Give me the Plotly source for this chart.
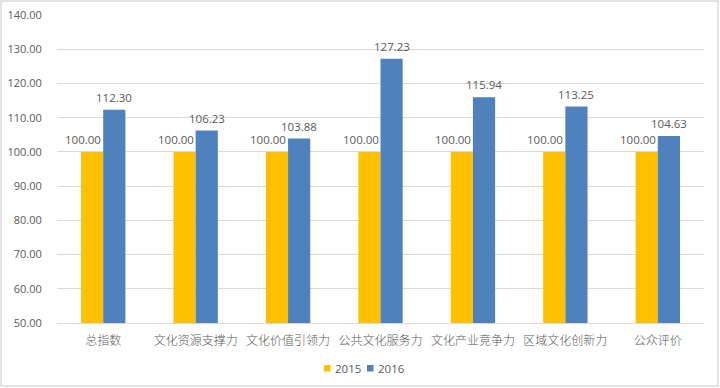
import plotly.graph_objects as go

categories = ["总指数", "文化资源支撑力", "文化价值引领力", "公共文化服务力", "文化产业竞争力", "区域文化创新力", "公众评价"]
values_2015 = [100.00, 100.00, 100.00, 100.00, 100.00, 100.00, 100.00]
values_2016 = [112.30, 106.23, 103.88, 127.23, 115.94, 113.25, 104.63]
y_ticks = [50, 60, 70, 80, 90, 100, 110, 120, 130, 140]
series_names = ["2015", "2016"]

font_fam = "Noto Sans CJK SC, Noto Sans, sans-serif"
num_font = "Open Sans, Noto Sans, sans-serif"
gray = "#595959"
colors = {"2015": "#FFC000", "2016": "#4F81BD"}

W, H = 720, 388
ML, MR, MT, MB = 57, 16, 15, 65
bargap = 0.52
plot_w = W - ML - MR
plot_h = H - MT - MB
cat_px = plot_w / len(categories)
bar_px = cat_px * (1 - bargap) / 2


def px_x(px):
    return (px - ML) / plot_w


def px_y(py):
    return (H - MB - py) / plot_h


fig = go.Figure()
for name, vals in zip(series_names, (values_2015, values_2016)):
    fig.add_trace(go.Bar(
        name=name, x=categories, y=vals, showlegend=False,
        marker=dict(color=colors[name], line=dict(width=0)),
        hovertemplate="%{x}<br>" + name + ": %{y:.2f}<extra></extra>",
    ))

# data labels as annotations so that they sit above both bars
annotations = []
for c, v in zip(categories, values_2015):
    annotations.append(dict(
        x=c, y=v, xref="x", yref="y", text=f"{v:.2f}", showarrow=False,
        xanchor="right", yanchor="bottom", xshift=0, yshift=3,
        font=dict(size=11.5, color=gray, family=num_font),
    ))
for c, v in zip(categories, values_2016):
    annotations.append(dict(
        x=c, y=v, xref="x", yref="y", text=f"{v:.2f}", showarrow=False,
        xanchor="center", yanchor="bottom", xshift=bar_px / 2, yshift=3,
        font=dict(size=11.5, color=gray, family=num_font),
    ))

shapes = []
# compact legend (small squares + labels) below the axis
legend_items = [(series_names[0], 324), (series_names[1], 367)]
for name, sx in legend_items:
    shapes.append(dict(type="rect", xref="paper", yref="paper",
                       x0=px_x(sx), x1=px_x(sx + 6.5), y0=px_y(371.5), y1=px_y(365),
                       line=dict(width=0), fillcolor=colors[name]))
    annotations.append(dict(xref="paper", yref="paper", x=px_x(sx + 9), y=px_y(368),
                            text=name, showarrow=False, xanchor="left", yanchor="middle",
                            font=dict(size=11.5, color=gray, family=num_font)))

# outer chart border
shapes.append(dict(type="rect", xref="paper", yref="paper",
                   x0=px_x(1), x1=px_x(W - 2), y0=px_y(H - 2), y1=px_y(1),
                   line=dict(color="#D9D9D9", width=1.5), fillcolor="rgba(0,0,0,0)", layer="below"))

fig.update_layout(
    width=W, height=H,
    margin=dict(l=ML, r=MR, t=MT, b=MB, autoexpand=False),
    paper_bgcolor="white", plot_bgcolor="white",
    barmode="group", bargap=bargap, bargroupgap=0,
    font=dict(family=font_fam, color=gray, size=12),
    showlegend=False,
    annotations=annotations,
    shapes=shapes,
)
fig.update_yaxes(
    range=[50, 140], tickvals=y_ticks, ticktext=[f"{v:.2f}" for v in y_ticks],
    showgrid=True, gridcolor="#D9D9D9", gridwidth=1, zeroline=False,
    showline=False, ticks="outside", ticklen=12, tickcolor="rgba(0,0,0,0)",
    tickfont=dict(size=11, color=gray, family=num_font), automargin=False,
)
fig.update_xaxes(
    showline=True, linecolor="#D9D9D9", linewidth=1, ticks="outside", ticklen=7,
    tickcolor="rgba(0,0,0,0)",
    tickfont=dict(size=12, color=gray, family=font_fam, weight=300), automargin=False,
)

fig.write_html("out.html", config={"displayModeBar": False},
               post_script="document.body.style.margin='0';document.body.style.overflow='hidden';")
